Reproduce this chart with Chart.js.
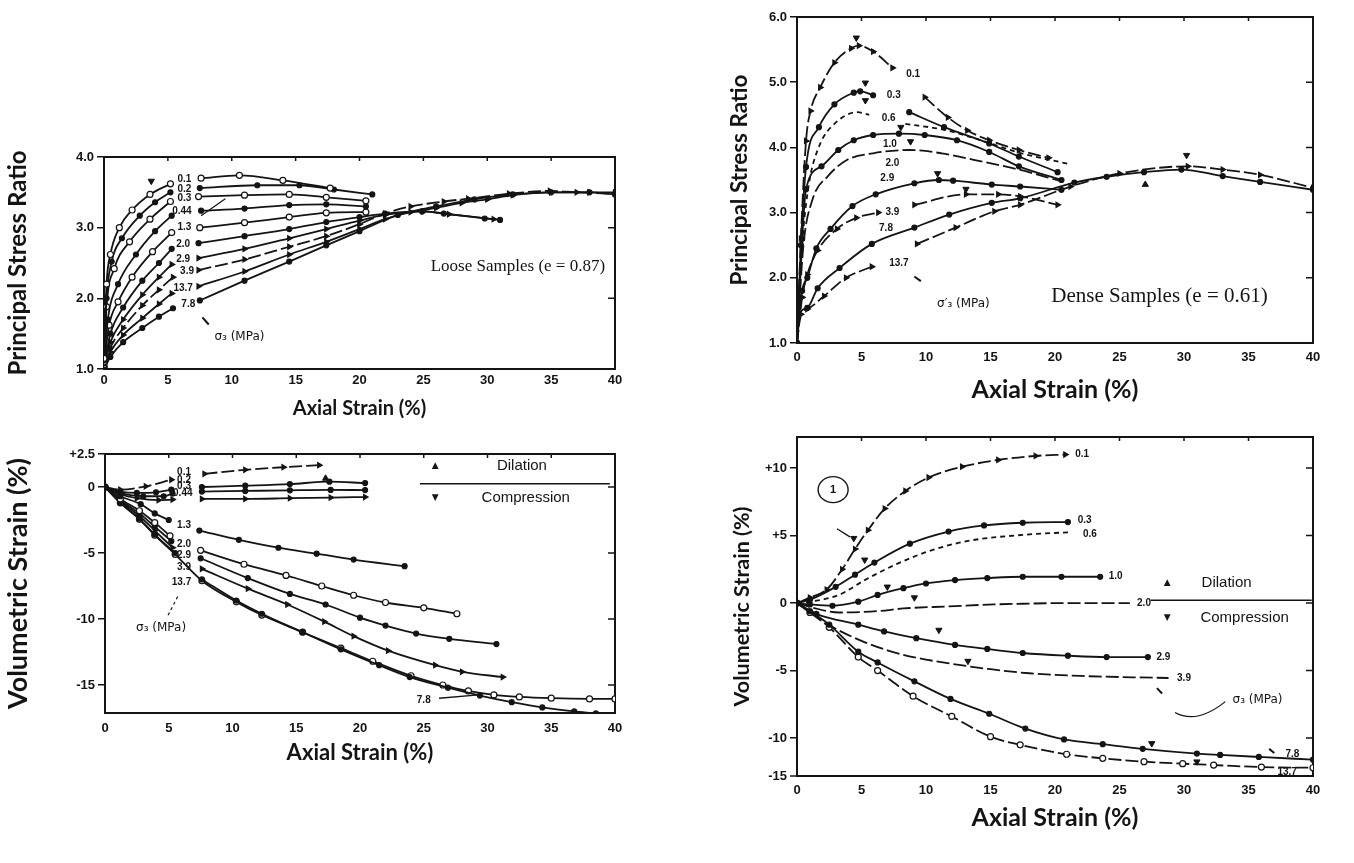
<!DOCTYPE html>
<html><head><meta charset="utf-8">
<script src="https://cdn.jsdelivr.net/npm/chart.js@4.4.1/dist/chart.umd.min.js"></script>
<style>
html,body{margin:0;padding:0;background:#fff;width:1354px;height:863px;overflow:hidden;}
canvas{position:absolute;}
</style></head><body>
<canvas id="tl"></canvas><canvas id="tr"></canvas><canvas id="bl"></canvas><canvas id="br"></canvas>
<script>
// ---------- shared ticks ----------
const xTicks = [0,5,10,15,20,25,30,35,40];
const yTicksTL = [1,2,3,4];
const yTicksTR = [1,2,3,4,5,6];
const yTicksBL = [2.5,0,-5,-10,-15];
const yTicksBR = [10,5,0,-5,-10];

// ---------- Loose samples: principal stress ratio (sigma3 in MPa) ----------
const tl_01  = [[0,1.15],[0.2,2.2],[0.5,2.62],[1.2,3.0],[2.2,3.25],[3.6,3.47],[5.2,3.62],[6.3,null],[7.6,3.7],[10.6,3.74],[14,3.67],[17.7,3.56]];
const tl_02  = [[0,1.12],[0.2,2.0],[0.6,2.52],[1.4,2.85],[2.8,3.17],[4,3.36],[5.2,3.5],[6.3,null],[7.5,3.56],[12,3.6],[15.3,3.6],[18,3.54],[21,3.47]];
const tl_03  = [[0,1.1],[0.2,1.88],[0.8,2.42],[2,2.8],[3.6,3.12],[5.2,3.37],[6.3,null],[7.4,3.44],[11,3.46],[14.5,3.47],[17.4,3.43],[20.5,3.38]];
const tl_044 = [[0,1.08],[0.3,1.7],[1.1,2.2],[2.5,2.62],[4,2.95],[5.3,3.17],[6.3,null],[7.6,3.24],[11,3.27],[14.5,3.32],[17.4,3.33],[20.5,3.3]];
const tl_13  = [[0,1.06],[0.4,1.62],[1.1,1.95],[2.2,2.3],[3.8,2.66],[5.3,2.93],[6.3,null],[7.5,3.0],[11,3.07],[14.5,3.15],[17.4,3.21],[20.5,3.22]];
const tl_20  = [[0,1.05],[0.5,1.5],[1.5,1.87],[3,2.25],[4.3,2.5],[5.3,2.7],[6.3,null],[7.4,2.78],[11,2.88],[14.5,2.98],[17.4,3.08],[20,3.15],[22,3.2],[24.9,3.23],[26.6,3.2],[29.8,3.13],[31,3.11]];
const tl_29  = [[0,1.04],[0.5,1.38],[1.5,1.7],[3,2.05],[4.3,2.3],[5.3,2.48],[6.3,null],[7.4,2.57],[11,2.7],[14.5,2.85],[17.4,2.98],[20,3.1],[22,3.18],[25,3.23],[27,3.19],[30.5,3.12]];
const tl_39  = [[0,1.03],[0.5,1.3],[1.5,1.58],[3,1.9],[4.3,2.12],[5.4,2.3],[6.4,null],[7.4,2.4],[11,2.55],[14.5,2.73],[17.4,2.88],[20,3.05],[22,3.2],[24,3.3],[26.6,3.37],[28.5,3.41],[31.7,3.48],[34.9,3.52],[37,3.5],[40,3.48]];
const tl_137 = [[0,1.02],[0.5,1.24],[1.5,1.48],[3,1.72],[4.3,1.92],[5.3,2.07],[6.3,null],[7.4,2.17],[11,2.38],[14.5,2.62],[17.4,2.8],[20,2.98],[22,3.12],[24,3.22],[26,3.28],[28,3.35],[30,3.4],[32,3.46],[35,3.5],[38,3.5],[40,3.5]];
const tl_78  = [[0,1.0],[0.5,1.17],[1.5,1.38],[3,1.58],[4.3,1.74],[5.4,1.86],[6.5,null],[7.5,1.97],[11,2.25],[14.5,2.52],[17.4,2.75],[20,2.95],[23,3.18],[26,3.3],[29,3.4],[32,3.47],[35,3.5],[38,3.5],[40,3.47]];
const tl_peaks = [[3.7,3.66]];

// ---------- Dense samples: principal stress ratio ----------
const tr_01  = [[0,1.0],[0.3,2.6],[0.7,4.1],[1.05,4.56],[1.8,4.92],[2.9,5.3],[4.2,5.52],[4.8,5.56],[5.9,5.47],[7.4,5.22],[8.9,null],[9.9,4.77],[11.7,4.46],[13.2,4.26],[14.9,4.11],[17.2,3.96],[19.5,3.84]];
const tr_03  = [[0,1.0],[0.3,2.5],[0.7,3.7],[1.7,4.31],[2.9,4.66],[4.4,4.84],[4.9,4.86],[5.9,4.8],[7.5,null],[8.7,4.54],[11.4,4.31],[14.9,4.06],[17.2,3.86],[20.2,3.62]];
const tr_06  = [[0,1.0],[0.4,2.5],[0.9,3.41],[1.7,4.01],[2.9,4.36],[4.7,4.54],[5.6,4.5],[7,null],[8.4,4.36],[11.4,4.27],[14.4,4.1],[17.2,3.92],[21.2,3.74]];
const tr_10  = [[0,1.0],[0.4,2.6],[0.7,3.36],[1.9,3.71],[3.2,3.96],[4.4,4.11],[5.9,4.19],[7.9,4.21],[9.9,4.19],[12.4,4.11],[14.9,3.93],[17.2,3.71],[20.5,3.5]];
const tr_20  = [[0,1.0],[0.5,2.5],[1.2,3.2],[2.4,3.56],[3.9,3.81],[5.9,3.91],[8.7,3.96],[11.2,3.91],[13.7,3.81],[17.2,3.66],[20.5,3.48]];
const tr_29  = [[0,1.0],[0.4,1.8],[0.8,2.0],[1.5,2.45],[2.6,2.75],[4.3,3.1],[6.1,3.28],[9.1,3.45],[11,3.5],[12.1,3.49],[15.1,3.43],[17.3,3.4],[20.5,3.35]];
const tr_39  = [[0,1.0],[0.4,1.7],[0.8,2.05],[1.6,2.42],[3.1,2.75],[4.6,2.92],[6.3,3.0],[7.4,null],[9.1,3.12],[13.1,3.28],[15.6,3.28],[17.3,3.25],[20.2,3.12]];
const tr_78  = [[0,1.0],[0.1,1.39],[0.8,1.54],[1.6,1.84],[3.3,2.15],[5.8,2.52],[9.1,2.77],[11.8,2.97],[15.1,3.15],[17.3,3.22],[21.5,3.46],[24,3.55],[26.9,3.62],[29.8,3.66],[33,3.56],[35.9,3.47],[40,3.35]];
const tr_137 = [[0,1.0],[0.3,1.44],[0.8,1.52],[2.1,1.72],[3.8,2.0],[5.8,2.17],[7.8,null],[9.3,2.52],[12.3,2.77],[15.3,3.02],[17.3,3.12],[21.2,3.4],[25,3.6],[30.3,3.71],[33,3.66],[35.9,3.58],[40,3.38]];
const tr_peaks = [[4.6,5.68],[5.3,4.99],[5.3,4.72],[8.05,4.31],[8.8,4.09],[10.9,3.6],[13.1,3.36],[30.2,3.88]];
const tr_dil = [[27.0,3.43]];

// ---------- Loose samples: volumetric strain ----------
const bl_01  = [[0,0],[1.2,-0.2],[3.2,0.05],[5.2,0.55],[6.2,null],[7.8,1.0],[11,1.3],[14,1.5],[16.8,1.65]];
const bl_02  = [[0,0],[1.2,-0.35],[2.5,-0.45],[4,-0.4],[5.2,-0.2],[6.2,null],[7.6,0.0],[11,0.1],[14.5,0.22],[17.6,0.4],[20.4,0.3]];
const bl_03  = [[0,0],[1.2,-0.45],[3,-0.7],[4.6,-0.7],[5.3,-0.5],[6.3,null],[7.6,-0.35],[11,-0.3],[14.5,-0.25],[17.7,-0.22],[20.4,-0.23]];
const bl_044 = [[0,0],[1.2,-0.55],[2.5,-0.85],[4.2,-1.0],[5.3,-0.95],[6.3,null],[7.6,-0.9],[11,-0.9],[14.5,-0.85],[17.7,-0.8],[20.4,-0.76]];
const bl_13  = [[0,0],[1.2,-0.7],[2.8,-1.3],[3.9,-2.0],[5.0,-2.5],[6.2,null],[7.4,-3.3],[10.5,-4.0],[13.6,-4.6],[16.6,-5.05],[19.5,-5.5],[23.5,-6.0]];
const bl_20  = [[0,0],[1.2,-0.9],[2.7,-1.8],[3.9,-2.7],[5.1,-3.7],[6.2,null],[7.5,-4.8],[10.9,-5.85],[14.2,-6.7],[17,-7.5],[19.5,-8.2],[22,-8.75],[25,-9.15],[27.6,-9.6]];
const bl_29  = [[0,0],[1.2,-1.0],[2.7,-2.0],[3.9,-3.0],[5.2,-4.1],[6.2,null],[7.5,-5.4],[11.2,-6.9],[14.5,-8.1],[17.3,-8.9],[20,-9.9],[22,-10.5],[24.4,-11.1],[27,-11.5],[30.7,-11.9]];
const bl_39  = [[0,0],[1.2,-1.1],[2.7,-2.2],[3.9,-3.3],[5.3,-4.6],[6.3,null],[7.6,-6.2],[11.2,-7.7],[14.3,-8.9],[17.2,-10.2],[19.5,-11.3],[22.2,-12.4],[25.9,-13.5],[28,-14.0],[31.2,-14.4]];
const bl_137 = [[0,0],[1.2,-1.2],[2.7,-2.4],[3.9,-3.6],[5.5,-5.0],[6.4,null],[7.6,-7.0],[10.3,-8.6],[12.3,-9.6],[15.5,-11.0],[18.5,-12.3],[21.5,-13.5],[23.9,-14.4],[26.9,-15.2],[29.4,-15.8],[31.9,-16.3],[34.3,-16.7],[36.8,-17.0],[38.5,-17.15],[40,-17.3]];
const bl_78  = [[0,0],[1.2,-1.2],[2.7,-2.45],[3.9,-3.65],[5.5,-5.1],[7.6,-7.1],[10.3,-8.7],[12.3,-9.7],[15.5,-11.0],[18.5,-12.2],[21,-13.2],[24,-14.3],[26.5,-15.0],[28.5,-15.45],[30.5,-15.75],[32.5,-15.9],[35,-16.0],[38,-16.05],[40,-16.05]];
const bl_dil = [[17.3,0.65]];

// ---------- Dense samples: volumetric strain ----------
const br_01  = [[0,0],[1,0.4],[2.3,1.0],[3.5,2.5],[4.5,4.0],[5.5,5.4],[6.8,7.0],[8.4,8.3],[10.2,9.3],[12.8,10.1],[15.6,10.6],[18.5,10.9],[20.8,11.0]];
const br_03  = [[0,0],[1,0.25],[3,1.2],[4.5,2.1],[6,3.0],[8.75,4.4],[11.75,5.3],[14.5,5.75],[17.5,5.95],[21,6.0]];
const br_06  = [[0,0],[1,0.1],[3.25,0.6],[5.25,1.7],[7.75,2.9],[10.25,3.85],[13.25,4.6],[17.5,5.05],[21.2,5.25]];
const br_10  = [[0,0],[1,-0.1],[2.75,-0.2],[4.75,0.1],[6.25,0.6],[8.25,1.1],[10,1.45],[12.25,1.7],[14.75,1.85],[17.5,1.95],[20.5,1.95],[23.5,1.95]];
const br_20  = [[0,0],[1.25,-0.35],[3.25,-0.7],[6.25,-0.6],[8.25,-0.4],[11.75,-0.25],[15.25,-0.1],[17.5,-0.05],[21,0],[25.8,0]];
const br_29  = [[0,0],[1.5,-0.8],[4.75,-1.6],[6.75,-2.1],[9.25,-2.6],[12.25,-3.1],[14.75,-3.4],[17.5,-3.7],[21,-3.9],[24,-4.0],[27.2,-4.0]];
const br_39  = [[0,0],[1.5,-1.0],[3,-1.9],[5,-2.8],[7,-3.5],[9,-4.0],[12,-4.5],[15,-4.9],[18,-5.2],[22,-5.4],[26,-5.5],[28.8,-5.55]];
const br_78  = [[0,0],[1,-0.6],[2.5,-1.6],[4.75,-3.6],[6.25,-4.4],[9.1,-5.8],[11.9,-7.1],[14.9,-8.2],[17.7,-9.3],[20.7,-10.1],[23.7,-10.45],[26.8,-10.8],[31,-11.15],[32.8,-11.25],[35.8,-11.4],[40,-11.6]];
const br_137 = [[0,0],[1,-0.7],[2.5,-1.8],[4.75,-4.0],[6.25,-5.0],[9,-6.9],[12,-8.4],[15,-9.9],[17.3,-10.5],[20.9,-11.2],[23.7,-11.5],[26.9,-11.75],[29.9,-11.9],[32.3,-12.0],[36,-12.15],[40,-12.2]];
const br_peaks = [[4.4,4.8],[5.25,3.2],[7,1.2],[9.1,0.4],[11,-2.0],[13.25,-4.3],[27.5,-10.4],[31,-11.75]];

// ---------- styling ----------
const INK = '#141414';
const TFAM = 'Lato, "Open Sans", sans-serif';
const TICK = {family:'"Liberation Sans", Arial, sans-serif', size:13, weight:'bold'};
const F_LBL = 'bold 10px "Liberation Sans", Arial, sans-serif';
const F_TICK = 'bold 13px "Liberation Sans", Arial, sans-serif';
const F_SM = '15px "Liberation Sans", Arial, sans-serif';
const F_SIG = '12px "DejaVu Sans", sans-serif';
const F_MK = '9px "DejaVu Sans", sans-serif';
const LONG = [13,4], SHORT = [5,4];
const FILLED = {}, OPEN = {open:true, pr:3}, ARROW = {ps:'triangle', rot:90, pr:3};

function pts(a){ return a.map(p => ({x:p[0], y:p[1]})); }
function ds(a, st, dash){
  return {data:pts(a), borderColor:INK, borderWidth:1.8, borderDash:dash||[],
    pointStyle:st.ps||'circle', pointRotation:st.rot||0, pointRadius:st.pr===undefined?2.5:st.pr,
    pointBackgroundColor:st.open?'#fff':INK, pointBorderColor:INK, pointBorderWidth:1.2,
    cubicInterpolationMode:'monotone', spanGaps:false, fill:false};
}
function marks(a, up){
  return {data:pts(a), showLine:false, pointStyle:'triangle', pointRotation:up?0:180,
    pointRadius:3.6, pointBackgroundColor:INK, pointBorderColor:INK, borderColor:INK};
}

const annoPlugin = {
  id:'anno',
  beforeDatasetsDraw(chart){
    const {ctx, chartArea:a, scales:{x, y}} = chart;
    ctx.save(); ctx.strokeStyle = INK; ctx.lineWidth = 2;
    ctx.strokeRect(a.left, a.top, a.right-a.left, a.bottom-a.top);
    // small inward ticks on the right and top borders, as in the printed frame
    ctx.lineWidth = 1.5; ctx.beginPath();
    y.ticks.forEach(t => { const py = y.getPixelForValue(t.value); if (py > a.top+2 && py < a.bottom-2) { ctx.moveTo(a.right, py); ctx.lineTo(a.right-7, py); } });
    x.ticks.forEach(t => { const px = x.getPixelForValue(t.value); if (px > a.left+2 && px < a.right-2) { ctx.moveTo(px, a.top); ctx.lineTo(px, a.top+4); } });
    ctx.stroke();
    ctx.restore();
  },
  afterDatasetsDraw(chart, args, opts){
    const {ctx, chartArea:a, scales:{x, y}} = chart;
    const P = p => [x.getPixelForValue(p[0]), y.getPixelForValue(p[1])];
    ctx.save();
    ctx.fillStyle = INK; ctx.strokeStyle = INK;
    (opts.segs||[]).forEach(s => {
      ctx.beginPath(); ctx.setLineDash(s.d||[]); ctx.lineWidth = s.w||1.4;
      const q = s.p.map(P);
      ctx.moveTo(q[0][0], q[0][1]);
      if (s.q) ctx.quadraticCurveTo(q[1][0], q[1][1], q[2][0], q[2][1]);
      else for (let i=1;i<q.length;i++) ctx.lineTo(q[i][0], q[i][1]);
      ctx.stroke();
    });
    ctx.setLineDash([]);
    (opts.circles||[]).forEach(c => {
      const q = P(c.p); ctx.beginPath(); ctx.lineWidth = 1.4;
      ctx.ellipse(q[0], q[1], c.rx, c.ry, 0, 0, Math.PI*2); ctx.stroke();
    });
    (opts.texts||[]).forEach(t => {
      const q = P(t.p);
      ctx.font = t.f || F_LBL; ctx.textAlign = t.a || 'center'; ctx.textBaseline = 'middle';
      ctx.fillText(t.t, q[0], q[1]);
    });
    if (opts.cornerLabel) {   // label printed at the bottom-left corner of the frame
      ctx.font = F_TICK; ctx.textAlign = 'right'; ctx.textBaseline = 'middle';
      ctx.fillText(opts.cornerLabel, a.left - 10, a.bottom);
      ctx.lineWidth = 1.5; ctx.beginPath(); ctx.moveTo(a.left-7, a.bottom); ctx.lineTo(a.left, a.bottom); ctx.stroke();
    }
    ctx.restore();
  }
};

function build(id, box, spec){
  const cv = document.getElementById(id);
  cv.width = box.w; cv.height = box.h;
  Object.assign(cv.style, {left:box.x+'px', top:box.y+'px', width:box.w+'px', height:box.h+'px'});
  return new Chart(cv, {
    type:'line',
    data:{datasets:spec.datasets},
    options:{
      responsive:false, animation:false, devicePixelRatio:1,
      layout:{padding:{top:box.pt, right:box.pr, left:0, bottom:0}, autoPadding:false},
      plugins:{legend:{display:false}, tooltip:{enabled:false}, anno:spec.anno},
      scales:{
        x:{type:'linear', min:0, max:40,
          afterBuildTicks:s => { s.ticks = xTicks.map(v => ({value:v})); },
          afterFit:s => { s.height = box.xh; },
          ticks:{font:TICK, color:INK, padding:box.xp, maxRotation:0, autoSkip:false},
          grid:{display:true, drawOnChartArea:false, drawTicks:false, color:INK},
          border:{display:true, color:INK, width:2},
          title:{display:true, text:'Axial Strain (%)', font:{family:TFAM, size:spec.xts, weight:'bold'}, color:INK, padding:0}},
        y:{type:'linear', min:spec.ymin, max:spec.ymax,
          afterBuildTicks:s => { s.ticks = spec.yTicks.map(v => ({value:v})); },
          afterFit:s => { s.width = box.yw; },
          ticks:{font:TICK, color:INK, padding:3, autoSkip:false, callback:spec.fmt},
          grid:{display:true, drawOnChartArea:false, drawTicks:true, tickLength:7, color:INK, lineWidth:1.5},
          border:{display:true, color:INK, width:2},
          title:{display:true, text:spec.yTitle, font:{family:TFAM, size:spec.yts, weight:'bold'}, color:INK, padding:{top:box.tp, bottom:0}}}
      }
    },
    plugins:[annoPlugin]
  });
}

const fmtRatio = v => v.toFixed(1);
const fmtSigned = v => v > 0 ? '+' + v : String(v);

// ---------- top-left ----------
build('tl', {x:0, y:140, w:640, h:281, pt:17, pr:25, yw:104, xh:52, xp:4, tp:4}, {
  ymin:1, ymax:4, yTicks:yTicksTL, fmt:fmtRatio, yTitle:'Principal Stress Ratio', yts:24, xts:20,
  datasets:[ds(tl_01,OPEN), ds(tl_02,FILLED), ds(tl_03,OPEN), ds(tl_044,FILLED), ds(tl_13,OPEN),
    ds(tl_20,FILLED), ds(tl_29,ARROW), ds(tl_39,ARROW,LONG), ds(tl_137,ARROW), ds(tl_78,FILLED), marks(tl_peaks,false)],
  anno:{
    texts:[{t:'0.1',p:[6.3,3.68]},{t:'0.2',p:[6.3,3.55]},{t:'0.3',p:[6.3,3.42]},{t:'0.44',p:[6.1,3.23]},
      {t:'1.3',p:[6.3,3.01]},{t:'2.0',p:[6.2,2.77]},{t:'2.9',p:[6.2,2.55]},{t:'3.9',p:[6.5,2.38]},
      {t:'13.7',p:[6.2,2.14]},{t:'7.8',p:[6.6,1.92]},
      {t:'Loose Samples (e = 0.87)',p:[32.4,2.45],f:'17px "Liberation Serif", "DejaVu Serif", serif'},
      {t:'σ₃ (MPa)',p:[10.6,1.46],f:F_SIG}],
    segs:[{p:[[7.6,3.17],[9.5,3.41]],w:1.2},{p:[[7.7,1.73],[8.2,1.63]],w:2}]
  }
});

// ---------- top-right ----------
build('tr', {x:712, y:0, w:642, h:405, pt:17, pr:41, yw:85, xh:62, xp:7, tp:14.5}, {
  ymin:1, ymax:6, yTicks:yTicksTR, fmt:fmtRatio, yTitle:'Principal Stress Ratio', yts:22.5, xts:25,
  datasets:[ds(tr_01,ARROW,LONG), ds(tr_03,FILLED), ds(tr_06,{pr:0},SHORT), ds(tr_10,FILLED), ds(tr_20,{pr:0},LONG),
    ds(tr_29,FILLED), ds(tr_39,ARROW,LONG), ds(tr_78,FILLED), ds(tr_137,ARROW,LONG), marks(tr_peaks,false), marks(tr_dil,true)],
  anno:{
    texts:[{t:'0.1',p:[9.0,5.12]},{t:'0.3',p:[7.5,4.8]},{t:'0.6',p:[7.1,4.44]},{t:'1.0',p:[7.2,4.05]},
      {t:'2.0',p:[7.4,3.76]},{t:'2.9',p:[7.0,3.52]},{t:'3.9',p:[7.4,3.0]},{t:'7.8',p:[6.9,2.76]},{t:'13.7',p:[7.9,2.22]},
      {t:'Dense Samples (e = 0.61)',p:[28.1,1.71],f:'21px "Liberation Serif", "DejaVu Serif", serif'},
      {t:'σ′₃ (MPa)',p:[12.9,1.6],f:F_SIG}],
    segs:[{p:[[9.1,2.02],[9.6,1.95]],w:2}]
  }
});

// ---------- bottom-left ----------
build('bl', {x:0, y:430, w:640, h:336, pt:24, pr:25, yw:105, xh:53, xp:8, tp:2}, {
  ymin:-17.12, ymax:2.5, yTicks:yTicksBL, fmt:fmtSigned, yTitle:'Volumetric Strain (%)', yts:27, xts:22,
  datasets:[ds(bl_01,ARROW,LONG), ds(bl_02,FILLED), ds(bl_03,FILLED), ds(bl_044,ARROW), ds(bl_13,FILLED),
    ds(bl_20,OPEN), ds(bl_29,FILLED), ds(bl_39,ARROW), ds(bl_137,FILLED), ds(bl_78,OPEN), marks(bl_dil,true)],
  anno:{
    texts:[{t:'0.1',p:[6.2,1.14]},{t:'0.2',p:[6.2,0.5]},{t:'0.3',p:[6.2,0.05]},{t:'0.44',p:[6.1,-0.45]},
      {t:'1.3',p:[6.2,-2.9]},{t:'2.0',p:[6.2,-4.35]},{t:'2.9',p:[6.2,-5.2]},{t:'3.9',p:[6.2,-6.1]},
      {t:'13.7',p:[6.0,-7.25]},{t:'7.8',p:[25.0,-16.15]},
      {t:'σ₃ (MPa)',p:[4.4,-10.7],f:F_SIG},
      {t:'▲',p:[25.9,1.6],f:F_MK},{t:'▼',p:[25.9,-0.8],f:F_MK},
      {t:'Dilation',p:[32.7,1.6],f:F_SM},{t:'Compression',p:[33.0,-0.8],f:F_SM}],
    segs:[{p:[[24.7,0.25],[39.6,0.25]],w:1.5},{p:[[5.7,-8.3],[4.9,-9.8]],d:[3,3],w:1.2},{p:[[26.2,-16.0],[29.3,-15.75]],w:1.4}]
  }
});

// ---------- bottom-right ----------
build('br', {x:712, y:420, w:642, h:413, pt:17, pr:41, yw:85, xh:57, xp:7, tp:17}, {
  ymin:-12.81, ymax:12.3, yTicks:yTicksBR, fmt:fmtSigned, yTitle:'Volumetric Strain (%)', yts:21.5, xts:25,
  datasets:[ds(br_01,ARROW,LONG), ds(br_03,FILLED), ds(br_06,{pr:0},SHORT), ds(br_10,FILLED), ds(br_20,{pr:0},LONG),
    ds(br_29,FILLED), ds(br_39,{pr:0},LONG), ds(br_78,FILLED), ds(br_137,OPEN,LONG), marks(br_peaks,false)],
  anno:{
    cornerLabel:'-15',
    texts:[{t:'0.1',p:[22.1,11.0]},{t:'0.3',p:[22.3,6.1]},{t:'0.6',p:[22.7,5.1]},{t:'1.0',p:[24.7,1.95]},
      {t:'2.0',p:[26.9,0]},{t:'2.9',p:[28.4,-4.0]},{t:'3.9',p:[30.0,-5.55]},{t:'7.8',p:[38.4,-11.2]},{t:'13.7',p:[38.0,-12.55]},
      {t:'1',p:[2.8,8.4],f:'bold 11px "Liberation Sans", sans-serif'},
      {t:'▲',p:[28.7,1.5],f:F_MK},{t:'▼',p:[28.7,-1.1],f:F_MK},
      {t:'Dilation',p:[33.3,1.5],f:F_SM},{t:'Compression',p:[34.7,-1.1],f:F_SM},
      {t:'σ₃ (MPa)',p:[35.7,-7.2],f:F_SIG}],
    circles:[{p:[2.8,8.4],rx:15,ry:13}],
    segs:[{p:[[27.4,0.2],[39.9,0.2]],w:1.5},{p:[[3.1,5.5],[4.1,4.9]],w:1.3},
      {p:[[29.3,-8.1],[31.0,-9.0],[33.2,-7.3]],q:true,w:1.2},{p:[[27.9,-6.3],[28.3,-6.7]],w:2},{p:[[36.6,-10.8],[37.0,-11.1]],w:2}]
  }
});
</script>
</body></html>
